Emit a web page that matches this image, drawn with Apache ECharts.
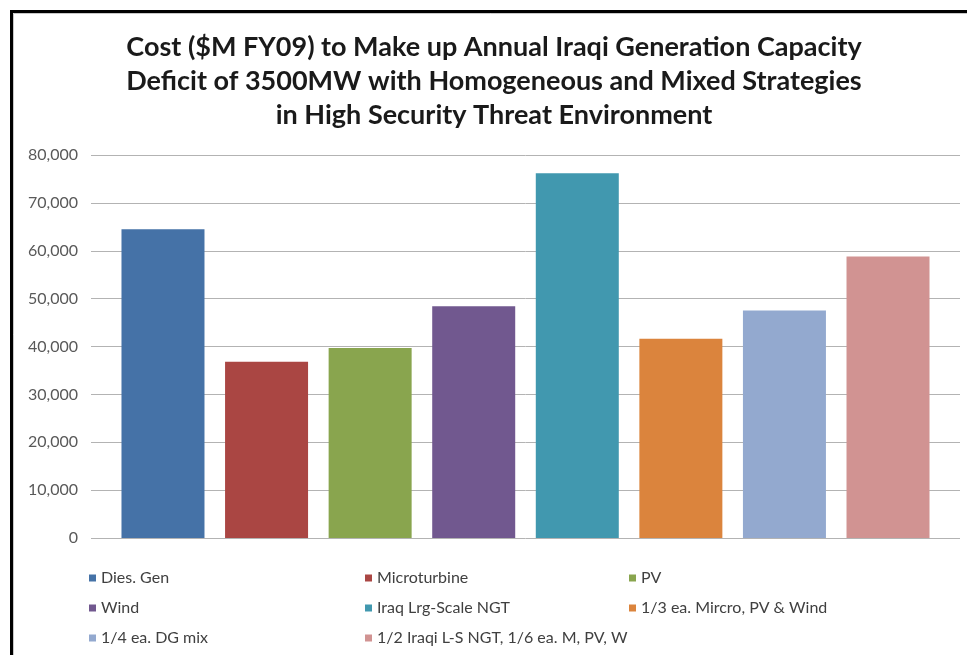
<!DOCTYPE html>
<html>
<head>
<meta charset="utf-8">
<title>Cost to Make up Annual Iraqi Generation Capacity Deficit</title>
<script src="https://cdn.jsdelivr.net/npm/echarts@6/dist/echarts.min.js"></script>
<style>
  html, body { margin: 0; padding: 0; background: #ffffff; }
  #chart { width: 967px; height: 655px; }
</style>
</head>
<body>
<div id="chart"></div>
<script>
// Strategies (one bar each) and their cost in $M FY09
const strategies = [
  'Dies. Gen',
  'Microturbine',
  'PV',
  'Wind',
  'Iraq Lrg-Scale NGT',
  '1/3 ea. Mircro, PV & Wind',
  '1/4 ea. DG mix',
  '1/2 Iraqi L-S NGT, 1/6 ea. M, PV, W'
];
const costs = [64500, 36800, 39700, 48400, 76200, 41600, 47500, 58800];
const barColors = ['#4572A7', '#AA4643', '#89A54E', '#71588F', '#4198AF', '#DB843D', '#93A9CF', '#D19392'];

// Value axis ticks
const yMin = 0;
const yMax = 80000;
const yStep = 10000;

// Legend columns (row-major order of the three-column key)
const legendColumns = [
  [strategies[0], strategies[3], strategies[6]],
  [strategies[1], strategies[4], strategies[7]],
  [strategies[2], strategies[5]]
];
const legendLefts = [84, 360, 624];

const chart = echarts.init(document.getElementById('chart'), null, { renderer: 'canvas' });

const series = strategies.map((name, i) => ({
  name: name,
  type: 'bar',
  data: [[i, costs[i]]],
  barWidth: 83,
  barGap: '-100%',
  itemStyle: { color: barColors[i] },
  emphasis: { disabled: true },
  animation: false
}));

const legends = legendColumns.map((col, c) => ({
  orient: 'vertical',
  left: legendLefts[c],
  top: 565,
  itemGap: 14,
  itemWidth: 7,
  itemHeight: 7,
  icon: 'rect',
  selectedMode: false,
  data: col,
  textStyle: {
    fontFamily: 'Lato, "Open Sans", sans-serif',
    fontSize: 16,
    color: '#404040'
  }
}));

chart.setOption({
  backgroundColor: '#ffffff',
  animation: false,
  title: {
    text: 'Cost ($M FY09) to Make up Annual Iraqi Generation Capacity\nDeficit of 3500MW with Homogeneous and Mixed Strategies\nin High Security Threat Environment',
    left: 494,
    textAlign: 'center',
    top: 30,
    padding: 0,
    textStyle: {
      fontFamily: 'Lato, "Open Sans", sans-serif',
      fontWeight: 'bold',
      fontSize: 27,
      lineHeight: 34,
      color: '#1a1a1a'
    }
  },
  legend: legends,
  grid: {
    left: 91,
    right: 7,
    top: 155,
    bottom: 117,
    containLabel: false
  },
  xAxis: {
    type: 'value',
    min: -0.695,
    max: 7.695,
    show: false
  },
  yAxis: {
    type: 'value',
    min: yMin,
    max: yMax,
    interval: yStep,
    axisLine: { show: false },
    axisTick: { show: false },
    axisLabel: {
      margin: 13,
      fontFamily: 'Lato, "Open Sans", sans-serif',
      fontSize: 16,
      color: '#595959',
      formatter: v => v.toLocaleString('en-US')
    },
    splitLine: { lineStyle: { color: '#b3b3b3', width: 1 } }
  },
  series: series,
  graphic: [
    {
      type: 'rect',
      shape: { x: 11.5, y: 11.5, width: 1000, height: 700 },
      style: { fill: null, stroke: '#000000', lineWidth: 3 },
      silent: true
    },
    {
      type: 'rect',
      shape: { x: 13.5, y: 13.5, width: 1000, height: 700 },
      style: { fill: null, stroke: '#c8c8c8', lineWidth: 1 },
      silent: true
    }
  ]
});
</script>
</body>
</html>
